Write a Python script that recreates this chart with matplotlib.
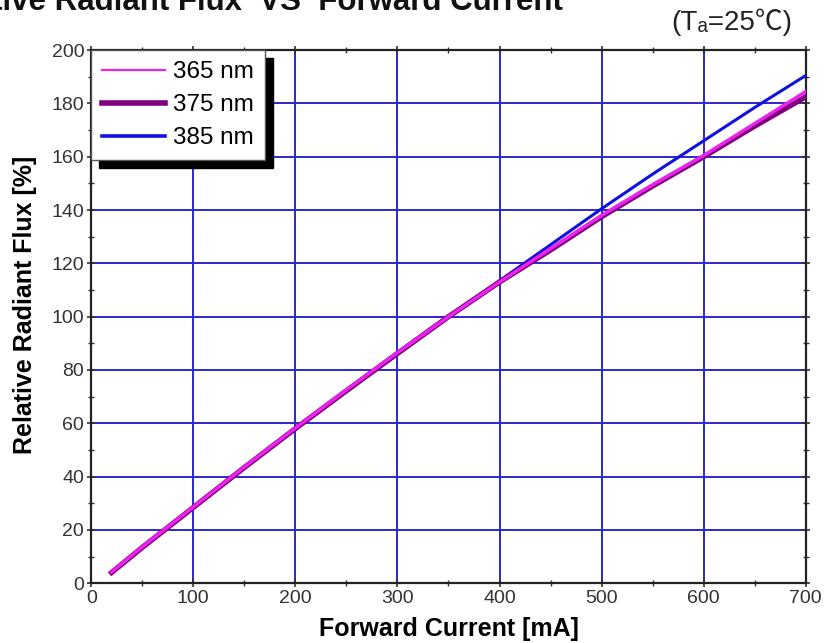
import numpy as np
import matplotlib
matplotlib.use("Agg")
import matplotlib.pyplot as plt
from matplotlib.ticker import MultipleLocator

plt.rcParams['font.family'] = ['Liberation Sans', 'DejaVu Sans']

# data (forward current in mA, relative flux in %)
current = [20, 50, 100, 150, 200, 250, 300, 350, 400, 450, 500, 550, 600, 650, 700]
flux_365 = [4.2, 13.6, 28.6, 43.6, 58.2, 72.5, 86.5, 100, 113, 125.5, 138, 149.5, 160.5, 172.5, 184.5]
flux_375 = [4, 13.4, 28.4, 43.4, 58, 72.2, 86.2, 100, 113, 125, 137.5, 149, 160, 171.5, 182.5]
flux_385 = [4, 13.4, 28.4, 43.4, 58, 72.2, 86.2, 100, 113.5, 127, 140.5, 153.5, 166, 178.5, 190.5]
labels = ['365 nm', '375 nm', '385 nm']

fig = plt.figure(figsize=(8.29, 6.43), dpi=100)
ax = fig.add_axes([0.110, 0.093, 0.862, 0.829])

l385, = ax.plot(current, flux_385, color='#1010e0', lw=2.2, zorder=3)
l375, = ax.plot(current, flux_375, color='#800080', lw=3.8, zorder=3.1)
l365, = ax.plot(current, flux_365, color='#ee22ee', lw=2.4, zorder=3.2)

ax.set_xlim(0, 700)
ax.set_ylim(0, 200)
ax.xaxis.set_major_locator(MultipleLocator(100))
ax.xaxis.set_minor_locator(MultipleLocator(50))
ax.yaxis.set_major_locator(MultipleLocator(20))
ax.yaxis.set_minor_locator(MultipleLocator(10))
ax.grid(True, which='major', color='#2828d0', lw=1.4)
ax.set_axisbelow(True)
ax.tick_params(which='both', direction='inout', top=True, right=True,
               labelsize=14, colors='#333333', labelcolor='#333333', pad=2)
ax.tick_params(which='major', length=6, width=1.2)
ax.tick_params(which='minor', length=4, width=1.0)
for s in ax.spines.values():
    s.set_linewidth(1.6)
    s.set_color('#222222')

ax.set_xlabel('Forward Current [mA]', fontsize=18, fontweight='bold', labelpad=7)
ax.set_ylabel('Relative Radiant Flux [%]', fontsize=18, fontweight='bold')
ax.yaxis.set_label_coords(-0.076, 0.523)

leg_handles = [plt.Line2D([], [], color='#ee22ee', lw=1.6),
               plt.Line2D([], [], color='#800080', lw=4.0),
               plt.Line2D([], [], color='#1010e0', lw=2.6)]
leg = ax.legend(leg_handles, labels, loc='upper left', bbox_to_anchor=(0, 1),
                borderaxespad=0, fontsize=17.5, handlelength=2.6, handletextpad=0.33,
                labelspacing=0.45, borderpad=0.45, fancybox=False, framealpha=1,
                edgecolor='#555555',
                shadow={'ox': 5.5, 'oy': -5.5, 'color': 'black', 'alpha': 1})
leg.get_frame().set_linewidth(1.0)
leg.set_zorder(10)

fig.text(563 / 829, 1 - 10 / 643, 'Relative Radiant Flux  VS  Forward Current',
         ha='right', va='baseline', fontsize=22.5, fontweight='bold', color='#111111')
fig.text(732 / 829, 1 - 22 / 643, '(Tₐ=25℃)', ha='center', va='center',
         fontsize=20, color='#222222',
         family=['Liberation Sans', 'Noto Sans CJK JP', 'DejaVu Sans'])

fig.savefig('out.png', dpi=100)
